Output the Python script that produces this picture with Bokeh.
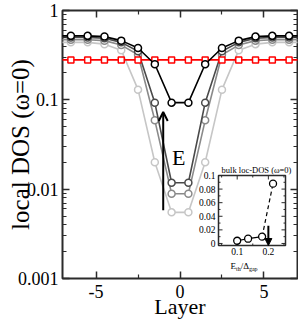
import math
from bokeh.plotting import figure
from bokeh.layouts import row, column
from bokeh.models import (Range1d, LinearScale, LinearAxis, LogAxis, FixedTicker,
                          Label, Arrow, OpenHead, NormalHead)
from bokeh.embed import file_html
from bokeh.resources import INLINE
from bokeh.core.properties import value

# ---------------- data ----------------
layers = [-7.5, -6.5, -5.5, -4.5, -3.5, -2.5, -1.5, -0.5,
          0.5, 1.5, 2.5, 3.5, 4.5, 5.5, 6.5, 7.5]
dos_e4 = [0.52, 0.52, 0.52, 0.51, 0.46, 0.38, 0.25, 0.093,
          0.093, 0.25, 0.38, 0.46, 0.51, 0.52, 0.52, 0.52]      # black
dos_e3 = [0.50, 0.50, 0.50, 0.49, 0.44, 0.35, 0.093, 0.0118,
          0.0118, 0.093, 0.35, 0.44, 0.49, 0.50, 0.50, 0.50]    # dark grey
dos_e2 = [0.47, 0.47, 0.47, 0.46, 0.41, 0.32, 0.059, 0.0089,
          0.0089, 0.059, 0.32, 0.41, 0.46, 0.47, 0.47, 0.47]    # grey
dos_e1 = [0.44, 0.44, 0.44, 0.42, 0.36, 0.13, 0.020, 0.0055,
          0.0055, 0.020, 0.13, 0.36, 0.42, 0.44, 0.44, 0.44]    # light grey
dos_ref = [0.28, 0.28, 0.28, 0.28, 0.28, 0.28, 0.28, 0.28,
           0.28, 0.28, 0.28, 0.28, 0.28, 0.28, 0.28, 0.28]      # red

inset_e = [0.10, 0.135, 0.18, 0.215]
inset_dos = [0.004, 0.007, 0.010, 0.088]

x_ticks = [-5, 0, 5]
x_tick_labels = ["-5", "0", "5"]
x_minor = [-2.5, 2.5]
y_ticks = [0.001, 0.01, 0.1, 1.0]
y_tick_labels = ["0.001", "0.01", "0.1", "1"]
y_minor = [m * d for d in (0.001, 0.01, 0.1) for m in range(2, 10)]

inset_xticks = [0.1, 0.2]
inset_xtick_labels = ["0.1", "0.2"]
inset_xminor = [0.05, 0.15, 0.25]
inset_yticks = [0.0, 0.02, 0.04, 0.06, 0.08, 0.1]
inset_ytick_labels = ["0", "0.02", "0.04", "0.06", "0.08", "0.1"]
inset_yminor = [0.01, 0.03, 0.05, 0.07, 0.09]
inset_xlim = (0.04, 0.255)
inset_ylim = (-0.003, 0.1)

# ---------------- layout constants (page pixels) ----------------
FL, FR, FT, FB = 62, 297, 10, 278          # main frame
IL, IR, IT, IB = 218, 285, 175, 245        # inset box
PAGE_L, PAGE_T, PAGE_B = 0, 0, 320
LEFT_W = FL - 2 - PAGE_L                   # width of the label strip
SERIF = "Liberation Serif"
AX = "#2b2b2b"

# ================= main figure =================
MW = FR + 1 - (FL - 2)
MH = FB + 2 - PAGE_T
p = figure(width=MW, height=MH, x_range=Range1d(-7, 7), y_range=Range1d(0.001, 1),
           y_axis_type="log", output_backend="svg", toolbar_location=None,
           min_border_left=2, min_border_right=1, min_border_top=FT - PAGE_T,
           min_border_bottom=2)
p.xgrid.visible = False
p.ygrid.visible = False
p.outline_line_color = AX
p.outline_line_width = 2
p.background_fill_color = "white"
p.border_fill_color = "white"

def style_axis(ax, ticks, minor):
    ax.ticker = FixedTicker(ticks=ticks, minor_ticks=minor)
    ax.axis_line_color = None
    ax.major_tick_in = 7
    ax.major_tick_out = 0
    ax.minor_tick_in = 4
    ax.minor_tick_out = 0
    ax.major_tick_line_color = AX
    ax.minor_tick_line_color = AX
    ax.major_tick_line_width = 1.5
    ax.minor_tick_line_width = 1.2
    ax.major_label_overrides = {t: "" for t in ticks}
    ax.major_label_text_font_size = "0px"
    ax.major_label_standoff = 0

style_axis(p.xaxis[0], x_ticks, x_minor)
style_axis(p.yaxis[0], y_ticks, y_minor)
top_ax = LinearAxis()
style_axis(top_ax, x_ticks, x_minor)
p.add_layout(top_ax, "above")
right_ax = LogAxis()
style_axis(right_ax, y_ticks, y_minor)
p.add_layout(right_ax, "right")

# main curves
for ys, col in [(dos_e1, "#c6c6c6"), (dos_e2, "#8a8a8a"), (dos_e3, "#4a4a4a")]:
    p.line(layers, ys, line_color=col, line_width=1.6)
    p.scatter(layers, ys, marker="circle", size=7, line_color=col, line_width=1.5,
              fill_color="white")
p.line(layers, dos_ref, line_color="#ff0000", line_width=1.8)
p.scatter(layers, dos_ref, marker="square", size=6, line_color="#ff0000",
          line_width=1.5, fill_color="white")
p.line(layers, dos_e4, line_color="black", line_width=1.6)
p.scatter(layers, dos_e4, marker="circle", size=7, line_color="black", line_width=1.5,
          fill_color="white")

# arrow E
p.add_layout(Arrow(x_start=-1.0, y_start=0.0058, x_end=-1.0, y_end=0.073,
                   line_width=2, line_color="black",
                   end=OpenHead(size=9, line_width=2, line_color="black")))
p.add_layout(Label(x=-0.47, y=0.0226, text="E", text_font=SERIF,
                   text_font_size="22px", text_align="left",
                   text_baseline="alphabetic", text_color="black"))

# extra coordinate systems: inset data and page pixels
bx = (inset_xlim[1] - inset_xlim[0]) / (IR - IL)
by = (inset_ylim[1] - inset_ylim[0]) / (IB - IT)
p.extra_x_ranges = {
    "ix": Range1d(inset_xlim[0] - (IL - FL) * bx, inset_xlim[1] + (FR - IR) * bx),
    "px": Range1d(FL, FR),
}
p.extra_y_ranges = {
    "iy": Range1d(inset_ylim[0] - (FB - IB) * by, inset_ylim[1] + (IT - FT) * by),
    "px": Range1d(FB, FT),
}
p.extra_x_scales = {"ix": LinearScale(), "px": LinearScale()}
p.extra_y_scales = {"iy": LinearScale(), "px": LinearScale()}

# inset
kw = dict(x_range_name="ix", y_range_name="iy")
p.quad(left=[inset_xlim[0]], right=[inset_xlim[1]], bottom=[inset_ylim[0]],
       top=[inset_ylim[1]], fill_color="white", line_color=AX, line_width=1.5, **kw)
maj, mnr = 4, 2
sx0, sx1, sy0, sy1 = [], [], [], []
for vals, ln in ((inset_yticks, maj), (inset_yminor, mnr)):
    for v in vals:
        sx0 += [inset_xlim[0], inset_xlim[1]]
        sx1 += [inset_xlim[0] + ln * bx, inset_xlim[1] - ln * bx]
        sy0 += [v, v]
        sy1 += [v, v]
for vals, ln in ((inset_xticks, maj), (inset_xminor, mnr)):
    for v in vals:
        sx0 += [v, v]
        sx1 += [v, v]
        sy0 += [inset_ylim[0], inset_ylim[1]]
        sy1 += [inset_ylim[0] + ln * by, inset_ylim[1] - ln * by]
p.segment(x0=sx0, y0=sy0, x1=sx1, y1=sy1, line_color=AX, line_width=1, **kw)
p.text(x=[inset_xlim[0] - 3 * bx] * len(inset_yticks), y=inset_yticks,
       text=inset_ytick_labels, text_font=value(SERIF), text_font_size="9.5px",
       text_align="right", text_baseline="middle", text_color="black", **kw)
p.text(x=inset_xticks, y=[inset_ylim[0] - 2 * by] * len(inset_xticks),
       text=inset_xtick_labels, text_font=value(SERIF), text_font_size="9.5px",
       text_align="center", text_baseline="top", text_color="black", **kw)
p.line(inset_e[:3], inset_dos[:3], line_color="black", line_width=1.2, **kw)
p.line(inset_e[2:], inset_dos[2:], line_color="black", line_width=1.2,
       line_dash="4 3", **kw)
p.scatter(inset_e, inset_dos, marker="circle", size=7, line_color="black",
          line_width=1.3, fill_color="white", **kw)
p.add_layout(Arrow(x_start=0.2, y_start=0.026, x_end=0.2, y_end=inset_ylim[0],
                   line_width=2, line_color="black",
                   end=NormalHead(size=7, fill_color="black", line_color="black"),
                   **kw))
pk = dict(x_range_name="px", y_range_name="px")
p.text(x=[256], y=[169], text=["bulk loc-DOS (ω=0)"], text_font=value(SERIF),
       text_font_size="8.5px", text_align="center", text_baseline="middle",
       text_color="black", **pk)
p.text(x=[230, 240.2], y=[265, 265], text=["E", "/Δ"], text_font=value(SERIF),
       text_font_size="9px", text_align="left", text_baseline="alphabetic",
       text_color="black", **pk)
p.text(x=[235.5, 248.4], y=[268, 268.5], text=["th", "gap"], text_font=value(SERIF),
       text_font_size="6px", text_align="left", text_baseline="alphabetic",
       text_color="black", **pk)

# ================= left strip: y tick labels + y axis label =================
dec_per_px = 3.0 / (FB - FT)
ly = figure(width=LEFT_W, height=PAGE_B - PAGE_T,
            x_range=Range1d(PAGE_L, PAGE_L + LEFT_W),
            y_range=Range1d(10 ** (-3 - (PAGE_B - FB) * dec_per_px),
                            10 ** ((FT - PAGE_T) * dec_per_px)),
            y_axis_type="log", x_axis_location=None, y_axis_location=None,
            output_backend="svg", toolbar_location=None,
            min_border_left=0, min_border_right=0, min_border_top=0, min_border_bottom=0)
ly.grid.visible = False
ly.outline_line_color = None
ly.background_fill_color = "white"
ly.border_fill_color = "white"
ly.extra_y_ranges = {"px": Range1d(PAGE_B, PAGE_T)}
ly.extra_y_scales = {"px": LinearScale()}
ly.text(x=[FL - 4] * len(y_ticks), y=y_ticks, text=y_tick_labels,
        text_font=value(SERIF), text_font_size="18px", text_align="right",
        text_baseline="middle", text_color="black")
ly.text(x=[20], y=[(FT + FB) / 2], text=["local DOS (ω=0)"], angle=math.pi / 2,
        text_font=value(SERIF), text_font_size="25px", text_align="center",
        text_baseline="alphabetic", text_color="black", y_range_name="px")

# ================= bottom strip: x tick labels + x axis label =================
bt = figure(width=MW, height=PAGE_B - (FB + 2), x_range=p.x_range,
            y_range=Range1d(PAGE_B, FB + 2), x_axis_location=None,
            y_axis_location=None, output_backend="svg", toolbar_location=None,
            min_border_left=2, min_border_right=1, min_border_top=0,
            min_border_bottom=0)
bt.grid.visible = False
bt.outline_line_color = None
bt.background_fill_color = "white"
bt.border_fill_color = "white"
bt.text(x=x_ticks, y=[291] * len(x_ticks), text=x_tick_labels,
        text_font=value(SERIF), text_font_size="18px", text_align="center",
        text_baseline="middle", text_color="black")
bt.extra_x_ranges = {"px": Range1d(FL, FR)}
bt.extra_x_scales = {"px": LinearScale()}
bt.text(x=[(FL + FR) / 2], y=[306], text=["Layer"], text_font=value(SERIF),
        text_font_size="22px", text_align="center", text_baseline="alphabetic",
        text_color="black", x_range_name="px")

layout = row(ly, column(p, bt))
open("out.html", "w").write(file_html(layout, INLINE))
